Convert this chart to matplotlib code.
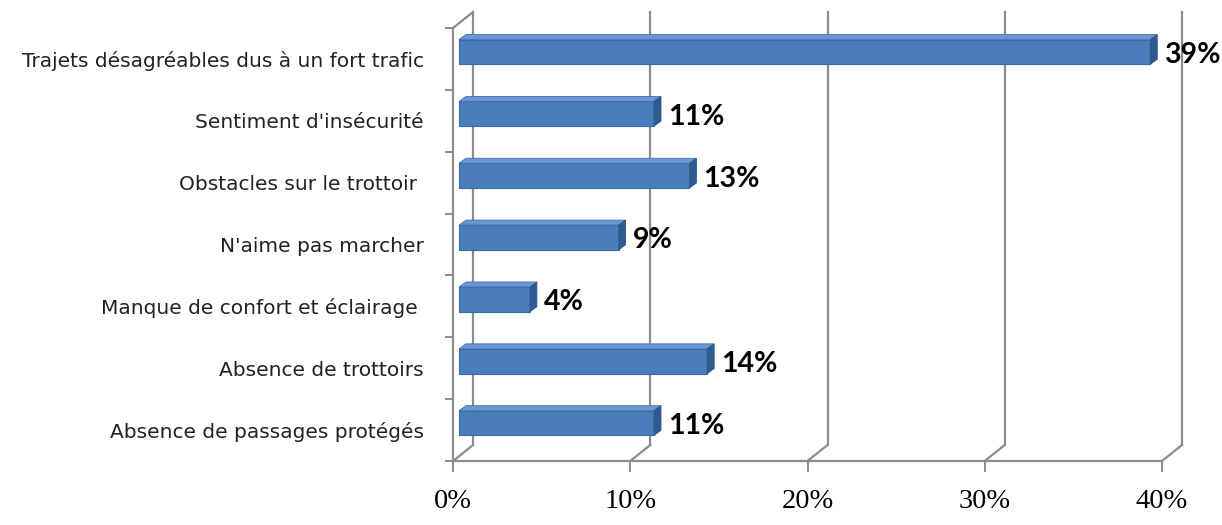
import matplotlib
matplotlib.use('Agg')
import matplotlib.pyplot as plt
from matplotlib.patches import Polygon
from matplotlib.lines import Line2D
from matplotlib.transforms import Affine2D, IdentityTransform

# données de l'enquête (de haut en bas)
categories = [
    "Trajets désagréables dus à un fort trafic",
    "Sentiment d'insécurité",
    "Obstacles sur le trottoir ",
    "N'aime pas marcher",
    "Manque de confort et éclairage ",
    "Absence de trottoirs",
    "Absence de passages protégés",
]
values = [39, 11, 13, 9, 4, 14, 11]
x_ticks = [0, 10, 20, 30, 40]
x_tick_labels = ["0%", "10%", "20%", "30%", "40%"]

GRID = '#8c8c8c'
FRONT = '#4a7ebb'
TOP = '#6a97cf'
SIDE = '#2d5b8e'

fig = plt.figure(figsize=(12.22, 5.25), dpi=100)
ax = fig.add_axes([453 / 1222, 64 / 525, 709 / 1222, 433 / 525])
ax.set_xlim(0, 40)
ax.set_ylim(len(categories) - 0.5, -0.5)
ax.patch.set_alpha(0)

# décalages en pixels : fond du graphique, face avant des barres, profondeur des barres
back_dx, back_dy = 20, 16
bar_dx, bar_dy = 6, 7
dep_dx, dep_dy = 7, 5
bar_h = 0.40


def px(x, y, dx=0, dy=0):
    X, Y = ax.transData.transform((x, y))
    return (X + dx, Y + dy)


def line(p, q):
    ax.add_line(Line2D([p[0], q[0]], [p[1], q[1]], transform=IdentityTransform(),
                       color=GRID, lw=1.6, zorder=1, clip_on=False))


ymin, ymax = ax.get_ylim()[0], ax.get_ylim()[1]

# quadrillage : diagonale au sol puis verticale sur le fond
for t in x_ticks:
    line(px(t, ymin), px(t, ymin, back_dx, back_dy))
    line(px(t, ymin, back_dx, back_dy), px(t, ymax, back_dx, back_dy))
line(px(0, ymax), px(0, ymax, back_dx, back_dy))

# barres 3D
front_tr = ax.transData + Affine2D().translate(bar_dx, bar_dy)
ypos = list(range(len(categories)))
ax.barh(ypos, values, height=bar_h, color=FRONT, edgecolor='#3a6aa3', lw=0.8,
        transform=front_tr, zorder=3)
for y, v in zip(ypos, values):
    x0, y_top = px(0, y - bar_h / 2, bar_dx, bar_dy)
    x1, y_bot = px(v, y + bar_h / 2, bar_dx, bar_dy)
    top = [(x0, y_top), (x1, y_top), (x1 + dep_dx, y_top + dep_dy), (x0 + dep_dx, y_top + dep_dy)]
    side = [(x1, y_top), (x1 + dep_dx, y_top + dep_dy), (x1 + dep_dx, y_bot + dep_dy), (x1, y_bot)]
    ax.add_patch(Polygon(top, closed=True, transform=IdentityTransform(), fc=TOP,
                         ec='#3f70ad', lw=0.6, zorder=3, clip_on=False))
    ax.add_patch(Polygon(side, closed=True, transform=IdentityTransform(), fc=SIDE,
                         ec=SIDE, lw=0.6, zorder=3, clip_on=False))
    lx, ly = px(v, y, bar_dx + dep_dx + 7, bar_dy)
    ax.text(lx, ly - 3, f"{v}%", transform=IdentityTransform(), ha='left', va='center',
            fontsize=20.5, fontweight='bold', family='Lato', color='black', zorder=4)

# axes
for s in ['top', 'right']:
    ax.spines[s].set_visible(False)
for s in ['left', 'bottom']:
    ax.spines[s].set_color(GRID)
    ax.spines[s].set_linewidth(1.6)

ax.set_xticks(x_ticks)
ax.set_xticklabels(x_tick_labels, family='Liberation Serif', fontsize=20.5)
ax.tick_params(axis='x', length=8, width=1.4, color=GRID, pad=12)

ax.set_yticks(ypos)
ax.set_yticklabels(categories, family='DejaVu Sans', fontsize=14.5, color='#222222')
ax.tick_params(axis='y', which='major', length=0, pad=21)
ax.set_yticks([i - 0.5 for i in range(len(categories) + 1)], minor=True)
ax.tick_params(axis='y', which='minor', length=6, width=1.4, color=GRID)

fig.savefig('out.png', dpi=100)
